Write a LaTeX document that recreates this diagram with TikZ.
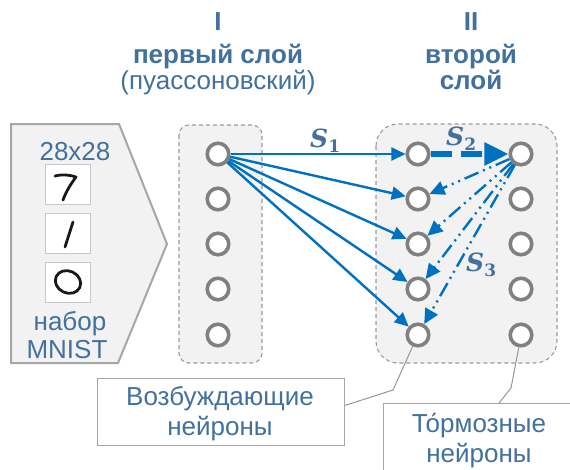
\documentclass[tikz,border=0pt]{standalone}
\usepackage{fontspec}
\setmainfont{Liberation Sans}
\newfontfamily\serifS{DejaVu Serif}
\usetikzlibrary{arrows.meta,calc}
\definecolor{txtblue}{RGB}{65,113,156}
\definecolor{arrblue}{RGB}{0,112,192}
\definecolor{ngray}{RGB}{128,128,128}
\definecolor{boxfill}{RGB}{242,242,242}
\definecolor{dashgray}{RGB}{155,155,155}
\definecolor{edgegray}{RGB}{166,166,166}
\definecolor{leadgray}{RGB}{150,150,150}
\newcommand\Slab[1]{{\fontsize{25}{25}\selectfont S}\raisebox{-5pt}{\fontsize{17}{17}\selectfont\upshape #1}}
\begin{document}
\begin{tikzpicture}[x=1pt,y=-1pt,
  font=\fontsize{26}{30}\selectfont,
  txt/.style={text=txtblue,anchor=base,inner sep=0pt},
  btxt/.style={txt,font=\fontsize{26}{30}\selectfont\bfseries},
  pent/.style={fill=boxfill,draw=edgegray,line width=2pt},
  layerbox/.style={fill=boxfill,draw=dashgray,line width=1.1pt,dash pattern=on 4pt off 3pt},
  neuron/.style={circle,draw=ngray,line width=3.6pt,fill=white,minimum size=21.5pt,inner sep=0pt},
  digbox/.style={draw=black!22,line width=0.8pt,fill=white,minimum width=45pt,minimum height=40pt,inner sep=0pt},
  digit/.style={line width=2.8pt,line cap=round,line join=round,draw=black!90},
  exc/.style={draw=arrblue,line width=2.4pt,-{Triangle[length=14pt,width=13pt]}},
  inhmain/.style={draw=arrblue,line width=5.5pt,dash pattern=on 21pt off 9pt,-{Triangle[length=24pt,width=22pt]}},
  inh/.style={draw=arrblue,line width=2.4pt,dash pattern=on 15pt off 5pt on 2pt off 5pt on 2pt off 5pt,-{Triangle[length=15pt,width=14pt]}},
  slab/.style={text=txtblue,anchor=base west,inner sep=0pt,font=\serifS\bfseries\itshape},
  lblbox/.style={draw=edgegray,line width=1.3pt,fill=white,inner sep=0pt},
  leader/.style={draw=leadgray,line width=1pt}]
\useasboundingbox (0,0) rectangle (570,469);

% input pentagon
\draw[pent] (11,124) -- (119,124) -- (167,244) -- (118,363) -- (11,363) -- cycle;
\node[txt] (size) at (75,160) {28x28};
\node[digbox] (d7) at (67.5,184) {};
\node[digbox] (d1) at (67.5,233) {};
\node[digbox] (d0) at (67.5,282) {};
\draw[digit] (55,176) .. controls (63,174) and (70,175) .. (76,177) .. controls (70,185) and (66,192) .. (63,200);
\draw[digit] (73,222) -- (65,247);
\draw[digit,rotate around={-25:(68,282)}] (68,282) ellipse [x radius=13pt, y radius=11pt];
\node[txt] (nabor) at (70,330) {набор};
\node[txt] (mnist) at (67,358) {MNIST};

% titles
\node[btxt] (t1a) at (218,30) {I};
\node[btxt] (t1b) at (218,63) {первый слой};
\node[txt] (t1c) at (218,89) {(пуассоновский)};
\node[btxt] (t2a) at (471,30) {II};
\node[btxt] (t2b) at (471,63) {второй};
\node[btxt] (t2c) at (471,89) {слой};

% layer boxes
\draw[layerbox,rounded corners=10pt] (179,125) rectangle (262,363);
\draw[layerbox,rounded corners=22pt] (376,124) rectangle (557,363);

% neurons
\foreach \i/\y in {1/154,2/199,3/244,4/289,5/335} {
  \node[neuron] (a\i) at (218,\y) {};
  \node[neuron] (e\i) at (418,\y) {};
  \node[neuron] (h\i) at (521,\y) {};
}

% connections
\foreach \i in {1,...,5} \draw[exc] (a1) -- (e\i);
\draw[inhmain] (e1) -- (h1);
\foreach \i in {2,...,5} \draw[inh] (h1) -- (e\i);

\node[slab] (s1) at (310,147) {\Slab{1}};
\node[slab] (s2) at (446,145) {\Slab{2}};
\node[slab] (s3) at (466,271) {\Slab{3}};

% label boxes
\node[lblbox,minimum width=247pt,minimum height=67pt,anchor=north west] (lbox) at (97,378) {};
\node[txt] (l1) at (220,405) {Возбуждающие};
\node[txt] (l2) at (220,435) {нейроны};
\node[lblbox,minimum width=200pt,minimum height=80pt,anchor=north west] (rbox) at (383,403) {};
\node[txt] (r1) at (479,432) {То́рмозные};
\node[txt] (r2) at (479,462) {нейроны};

\coordinate (lend) at ($(lbox.north east)!0.4!(lbox.south east)$);
\coordinate (rend) at (499,403);
\draw[leader] (e5.245) -- (393,390) -- (lend);
\draw[leader] (h5.260) -- (511,388) -- (rend);
\end{tikzpicture}
\end{document}
